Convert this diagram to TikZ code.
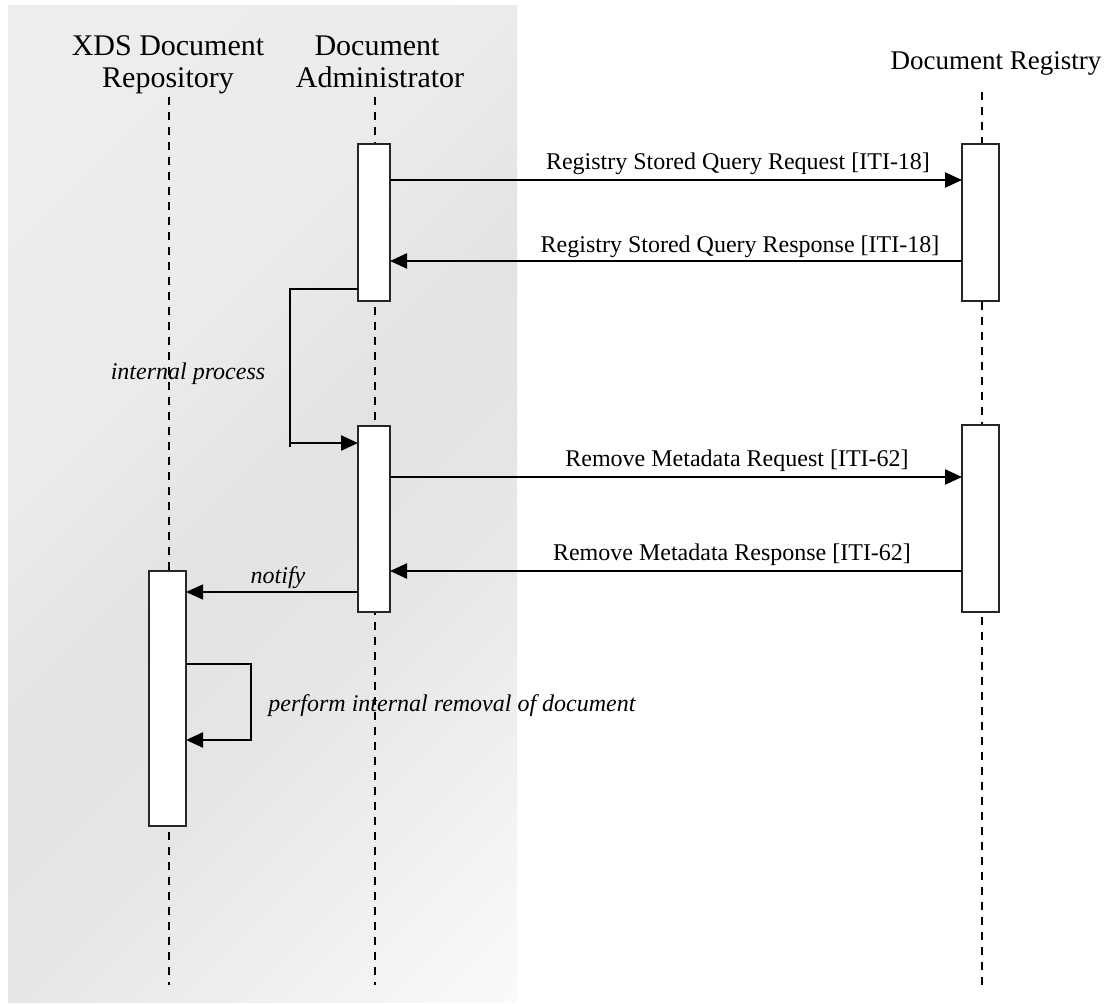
\documentclass[tikz,border=0pt]{standalone}
\usepackage{fontspec}
\setmainfont{Liberation Serif}
\usetikzlibrary{arrows.meta}
\begin{document}
\begin{tikzpicture}[x=1pt,y=-1pt,
  lifeline/.style={line width=2.4pt, dash pattern=on 8pt off 7pt, black},
  actbox/.style={draw=black!85, line width=2.3pt, fill=white, inner sep=0pt, outer sep=0pt},
  wire/.style={line width=2.3pt, black},
  msg/.style={wire, -{Triangle[length=17pt,width=15pt]}},
  lbl/.style={font=\fontsize{24}{27}\selectfont, anchor=base, inner sep=0pt},
  ilbl/.style={font=\fontsize{24}{27}\selectfont\itshape, anchor=base, inner sep=0pt},
  ttl/.style={font=\fontsize{30}{34}\selectfont, anchor=base, inner sep=0pt}]
\useasboundingbox (0,0) rectangle (1107,1003);
% diagonal gradient background
\begin{scope}
  \clip (8,6) rectangle (517,1002);
  \foreach \i in {0,...,99} {
    \pgfmathsetmacro{\t}{(\i+0.5)/100}
    \pgfmathsetmacro{\v}{\t<0.34 ? 0.933-0.011*\t/0.34 : (\t<0.5 ? 0.922-0.032*(\t-0.34)/0.16 : (\t<0.66 ? 0.890+0.012*(\t-0.5)/0.16 : 0.902+0.078*(\t-0.66)/0.34))}
    \definecolor{bandc}{gray}{\v}
    \pgfmathsetmacro{\ca}{14+15.05*\i}
    \pgfmathsetmacro{\cb}{\ca+16}
    \fill[bandc] (-2000,\ca+2000) -- (2000,\ca-2000) -- (2000,\cb-2000) -- (-2000,\cb+2000) -- cycle;
  }
\end{scope}

% titles
\node[ttl] (h1a) at (168,56) {XDS Document};
\node[ttl] (h1b) at (168,88) {Repository};
\node[ttl] (h2a) at (377,56) {Document};
\node[ttl] (h2b) at (380,88) {Administrator};
\node[ttl, font=\fontsize{27}{30}\selectfont] (h3) at (996,70) {Document Registry};

% lifelines
\coordinate (l1t) at (169,97);  \coordinate (l1b) at (169,985);
\coordinate (l2t) at (375,97);  \coordinate (l2b) at (375,985);
\coordinate (l3t) at (982,92);  \coordinate (l3b) at (982,985);
\draw[lifeline] (l1t) -- (l1b);
\draw[lifeline] (l2t) -- (l2b);
\draw[lifeline] (l3t) -- (l3b);

% activation boxes
\node[actbox, minimum width=32pt, minimum height=157pt] (a1) at (374,222.5) {};
\node[actbox, minimum width=32pt, minimum height=186pt] (a2) at (374,519) {};
\node[actbox, minimum width=37pt, minimum height=157pt] (r1) at (980.5,222.5) {};
\node[actbox, minimum width=37pt, minimum height=187pt] (r2) at (980.5,518.5) {};
\node[actbox, minimum width=37pt, minimum height=255pt] (p1) at (167.5,698.5) {};

% message y levels
\coordinate (y1) at (0,180);
\coordinate (y2) at (0,261);
\coordinate (y3) at (0,477);
\coordinate (y4) at (0,571);
\coordinate (y5) at (0,592);
\coordinate (ipb) at (0,443);
\coordinate (ipe) at (0,447);
\coordinate (ip) at (290,289);
\coordinate (s1) at (251,664);
\coordinate (s2) at (251,740);

\draw[msg] (a1.east |- y1) -- (r1.west |- y1);
\draw[msg] (r1.west |- y2) -- (a1.east |- y2);
\draw[wire] (a1.west |- ip) -- (ip) -- (ip |- ipe);
\draw[msg] (ip |- ipb) -- (a2.west |- ipb);
\draw[msg] (a2.east |- y3) -- (r2.west |- y3);
\draw[msg] (r2.west |- y4) -- (a2.east |- y4);
\draw[msg, line width=1.4pt] (a2.west |- y5) -- (p1.east |- y5);
\draw[msg] (p1.east |- s1) -- (s1) -- (s2) -- (p1.east |- s2);

% labels
\node[lbl] (t1) at (738,170) {Registry Stored Query Request [ITI-18]};
\node[lbl] (t2) at (740,252) {Registry Stored Query Response [ITI-18]};
\node[lbl] (t3) at (737,466) {Remove Metadata Request [ITI-62]};
\node[lbl] (t4) at (732,560) {Remove Metadata Response [ITI-62]};
\node[ilbl] (t5) at (278,583) {notify};
\node[ilbl] (t6) at (188,379) {internal process};
\node[ilbl] (t7) at (452,711) {perform internal removal of document};
\end{tikzpicture}
\end{document}
